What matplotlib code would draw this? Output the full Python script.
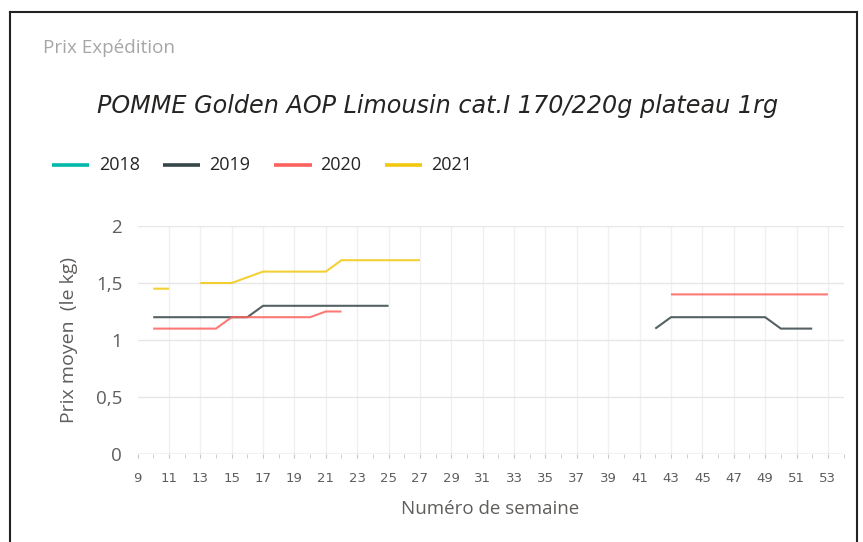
import numpy as np
import matplotlib
matplotlib.use("Agg")
import matplotlib.pyplot as plt
from matplotlib.lines import Line2D
from matplotlib.ticker import FixedLocator

# ---------------- data ----------------
weeks = list(range(9, 54))
series_names = ["2018", "2019", "2020", "2021"]
series_colors = ["#01B8AA", "#374649", "#FD625E", "#F2C80F"]

N = None
# values per week, weeks 9..53
prix_2018 = [N] * 45
prix_2019 = [N, 1.2, 1.2, 1.2, 1.2, 1.2, 1.2, 1.2, 1.3, 1.3,   # 9-18
             1.3, 1.3, 1.3, 1.3, 1.3, 1.3, 1.3, N, N, N,          # 19-28
             N, N, N, N, N, N, N, N, N, N,                        # 29-38
             N, N, N, 1.1, 1.2, 1.2, 1.2, 1.2, 1.2, 1.2,          # 39-48
             1.2, 1.1, 1.1, 1.1, N]                               # 49-53
prix_2020 = [N, 1.1, 1.1, 1.1, 1.1, 1.1, 1.2, 1.2, 1.2, 1.2,   # 9-18
             1.2, 1.2, 1.25, 1.25, N, N, N, N, N, N,              # 19-28
             N, N, N, N, N, N, N, N, N, N,                        # 29-38
             N, N, N, N, 1.4, 1.4, 1.4, 1.4, 1.4, 1.4,            # 39-48
             1.4, 1.4, 1.4, 1.4, 1.4]                             # 49-53
prix_2021 = [N, 1.45, 1.45, N, 1.5, 1.5, 1.5, 1.55, 1.6, 1.6,  # 9-18
             1.6, 1.6, 1.6, 1.7, 1.7, 1.7, 1.7, 1.7, 1.7, N,      # 19-28
             N, N, N, N, N, N, N, N, N, N,                        # 29-38
             N, N, N, N, N, N, N, N, N, N,                        # 39-48
             N, N, N, N, N]                                       # 49-53
series_values = [prix_2018, prix_2019, prix_2020, prix_2021]

x_tick_labels = [str(w) for w in range(9, 54, 2)]
y_ticks = [0, 0.5, 1, 1.5, 2]
y_tick_labels = ["0", "0,5", "1", "1,5", "2"]

card_title = "Prix Expédition"
chart_title = "POMME Golden AOP Limousin cat.I 170/220g plateau 1rg"
x_label = "Numéro de semaine"
y_label = "Prix moyen  (le kg)"

# ---------------- figure ----------------
W, H = 863, 542
fig = plt.figure(figsize=(W / 100, H / 100), dpi=100)
fig.patch.set_facecolor("white")

FONT = ["Open Sans", "DejaVu Sans"]
NARROW = ["Liberation Sans Narrow", "DejaVu Sans"]

def px(x, y):
    return x / W, 1 - y / H

# card border (top, left, right)
for xs, ys in [([10, 10], [542, 12]), ([10, 857], [12, 12]), ([857, 857], [12, 542])]:
    fig.add_artist(Line2D([x / W for x in xs], [1 - y / H for y in ys], color="#222222",
                          lw=1.5, transform=fig.transFigure))

fig.text(*px(43, 48), card_title, family=FONT, fontsize=13.6, color="#A6A6A6",
         ha="left", va="center")
fig.text(*px(97, 106), chart_title, family=["DejaVu Sans"], fontsize=17.2, style="italic",
         color="#252423", ha="left", va="center")

# legend
leg_line_x = [(52, 89), (163, 200), (274, 312), (385, 422)]
leg_text_x = [99, 209, 320, 431]
for (x0, x1), tx, name, col in zip(leg_line_x, leg_text_x, series_names, series_colors):
    fig.add_artist(Line2D([x0 / W, x1 / W], [1 - 165 / H] * 2, color=col, lw=2.6,
                          transform=fig.transFigure, solid_capstyle="butt"))
    fig.text(*px(tx, 165), name, family=FONT, fontsize=13, color="#252423",
             ha="left", va="center")

# axes
left, right, top, bottom = 137.5, 843.6, 226, 454
ax = fig.add_axes([left / W, 1 - bottom / H, (right - left) / W, (bottom - top) / H])
ax.set_xlim(9, 54)
ax.set_ylim(0, 2)

for vals, col in zip(series_values, series_colors):
    y = np.array([np.nan if v is None else v for v in vals], dtype=float)
    ax.plot(weeks, y, color=col, lw=1.5, solid_capstyle="butt", zorder=3, alpha=0.85)

for s in ax.spines.values():
    s.set_visible(False)

ax.xaxis.set_major_locator(FixedLocator([int(t) for t in x_tick_labels]))
ax.set_xticklabels(x_tick_labels)
ax.xaxis.set_minor_locator(FixedLocator(weeks + [54]))
ax.set_yticks(y_ticks)
ax.set_yticklabels(y_tick_labels)

ax.grid(True, axis="y", color="#E6E6E6", lw=1.0, zorder=0)
for t in x_tick_labels[1:]:
    ax.axvline(int(t), color="#F0F0F0", lw=1.0, zorder=0)
ax.axhline(0, color="#D0D0D0", lw=1.0, zorder=1)

ax.tick_params(axis="x", which="major", length=3, color="#C8C8C8", labelsize=9.5,
               labelcolor="#605E5C", pad=10)
ax.tick_params(axis="x", which="minor", length=3, color="#C8C8C8")
ax.tick_params(axis="y", length=0, labelsize=13.5, labelcolor="#605E5C", pad=11)
for lab in ax.get_xticklabels():
    lab.set_family(NARROW)
for lab in ax.get_yticklabels():
    lab.set_family(FONT)

ax.set_xlabel(x_label, family=FONT, fontsize=13.5, color="#605E5C", labelpad=11)
ax.set_ylabel(y_label, family=FONT, fontsize=14, color="#605E5C", labelpad=13)

fig.savefig("out.png", dpi=100, facecolor="white")
